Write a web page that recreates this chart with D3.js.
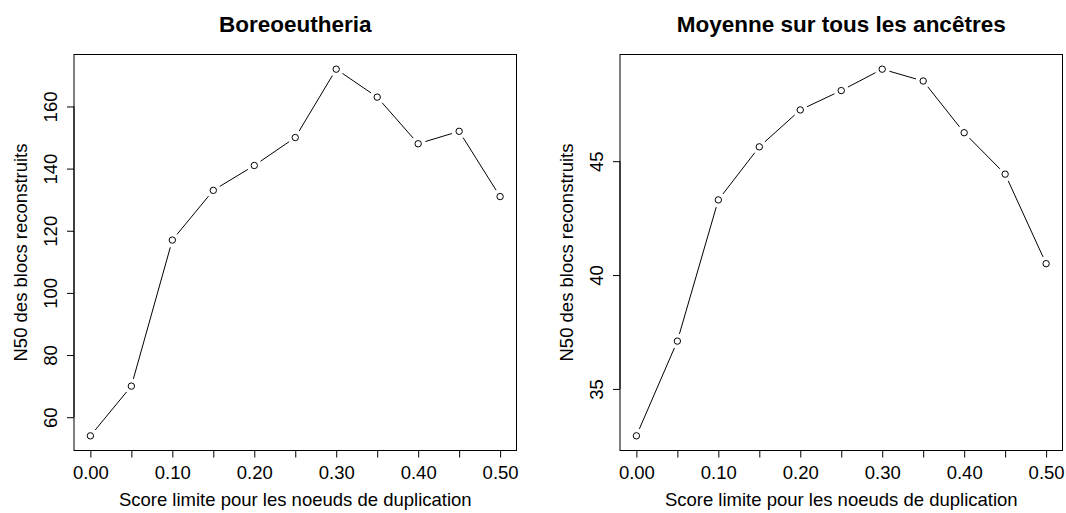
<!DOCTYPE html>
<html>
<head>
<meta charset="utf-8">
<script src="https://cdn.jsdelivr.net/npm/d3@7"></script>
<style>
  html, body { margin: 0; padding: 0; background: #fff; }
  svg { display: block; }
  text { font-family: "Liberation Sans", Arial, Helvetica, sans-serif; fill: #000; }
</style>
</head>
<body>
<svg id="chart" width="1066" height="513"></svg>
<script>
// Duplication score thresholds (x values shared by both panels)
const thresholds = [0.00, 0.05, 0.10, 0.15, 0.20, 0.25, 0.30, 0.35, 0.40, 0.45, 0.50];
const xTickValues = [0.00, 0.05, 0.10, 0.15, 0.20, 0.25, 0.30, 0.35, 0.40, 0.45, 0.50];
const xTickLabels = ["0.00", "", "0.10", "", "0.20", "", "0.30", "", "0.40", "", "0.50"];

// N50 of reconstructed blocks — Boreoeutheria
const boreoValues = [54, 70, 117, 133, 141, 150, 172, 163, 148, 152, 131];
const boreoTicks = [60, 80, 100, 120, 140, 160];

// N50 of reconstructed blocks — mean over all ancestors
const meanValues = [32.94, 37.1, 43.3, 45.63, 47.25, 48.1, 49.04, 48.52, 46.25, 44.43, 40.5];
const meanTicks = [35, 40, 45];

const panelTitles = ["Boreoeutheria", "Moyenne sur tous les ancêtres"];
const xTitle = "Score limite pour les noeuds de duplication";
const yTitle = "N50 des blocs reconstruits";

const svg = d3.select("#chart");

const panels = [
  { title: panelTitles[0], values: boreoValues, ticks: boreoTicks, box: { left: 74, right: 516.5, top: 54.5, bottom: 450.5 } },
  { title: panelTitles[1], values: meanValues, ticks: meanTicks, box: { left: 620, right: 1062.5, top: 54.5, bottom: 450.5 } }
];

// R-style 4% padding around the data range
function padded(extent) {
  const r = extent[1] - extent[0];
  return [extent[0] - 0.04 * r, extent[1] + 0.04 * r];
}

const tickLen = 7;
const gap = 7.5;   // space left between segments and point symbols
const radius = 3.2;

panels.forEach(p => {
  const b = p.box;
  const g = svg.append("g");

  const x = d3.scaleLinear().domain(padded(d3.extent(thresholds))).range([b.left, b.right]);
  const y = d3.scaleLinear().domain(padded(d3.extent(p.values))).range([b.bottom, b.top]);

  // plot frame
  g.append("rect")
    .attr("x", b.left).attr("y", b.top)
    .attr("width", b.right - b.left).attr("height", b.bottom - b.top)
    .attr("fill", "none").attr("stroke", "#000").attr("stroke-width", 1);

  // x axis (ticks below the frame)
  const xAxis = d3.axisBottom(x)
    .tickValues(xTickValues)
    .tickSize(tickLen)
    .tickPadding(4)
    .tickFormat((d, i) => xTickLabels[i]);
  const gx = g.append("g").attr("transform", `translate(0,${b.bottom})`).call(xAxis);
  gx.select(".domain").attr("d", `M${x(xTickValues[0])},0H${x(xTickValues[xTickValues.length - 1])}`);
  gx.selectAll("text").attr("font-size", 18.5).attr("font-family", "Liberation Sans, Arial, sans-serif").attr("dy", "0.95em");
  gx.selectAll("line, path").attr("stroke", "#000");

  // y axis with rotated labels
  const yAxis = d3.axisLeft(y)
    .tickValues(p.ticks)
    .tickSize(tickLen)
    .tickFormat(d3.format("d"));
  const gy = g.append("g").attr("transform", `translate(${b.left},0)`).call(yAxis);
  gy.select(".domain").attr("d", `M0,${y(p.ticks[0])}V${y(p.ticks[p.ticks.length - 1])}`);
  gy.selectAll("line, path").attr("stroke", "#000");
  gy.selectAll(".tick text")
    .attr("font-size", 18.5)
    .attr("font-family", "Liberation Sans, Arial, sans-serif")
    .attr("x", null).attr("dy", null)
    .attr("text-anchor", "middle")
    .attr("transform", "translate(-17.5,0) rotate(-90)");

  // titles
  g.append("text")
    .attr("x", (b.left + b.right) / 2).attr("y", 31.5)
    .attr("text-anchor", "middle")
    .attr("font-size", 22.5).attr("font-weight", "bold")
    .text(p.title);

  g.append("text")
    .attr("x", (b.left + b.right) / 2).attr("y", 505.5)
    .attr("text-anchor", "middle")
    .attr("font-size", 18.5)
    .text(xTitle);

  g.append("text")
    .attr("transform", `translate(${b.left - 47},${(b.top + b.bottom) / 2}) rotate(-90)`)
    .attr("text-anchor", "middle")
    .attr("font-size", 18.5)
    .text(yTitle);

  // connecting segments, trimmed short of each point
  const pts = thresholds.map((t, i) => [x(t), y(p.values[i])]);
  const segs = d3.pairs(pts).map(([a, c]) => {
    const dx = c[0] - a[0], dy = c[1] - a[1];
    const len = Math.hypot(dx, dy);
    const ux = dx / len, uy = dy / len;
    return { x1: a[0] + ux * gap, y1: a[1] + uy * gap, x2: c[0] - ux * gap, y2: c[1] - uy * gap, ok: len > 2 * gap };
  }).filter(s => s.ok);

  g.append("g").selectAll("line").data(segs).join("line")
    .attr("x1", d => d.x1).attr("y1", d => d.y1)
    .attr("x2", d => d.x2).attr("y2", d => d.y2)
    .attr("stroke", "#000").attr("stroke-width", 1);

  // open circle markers
  g.append("g").selectAll("circle").data(thresholds).join("circle")
    .attr("cx", d => x(d))
    .attr("cy", (d, i) => y(p.values[i]))
    .attr("r", radius)
    .attr("fill", "none").attr("stroke", "#000").attr("stroke-width", 1);
});
</script>
</body>
</html>
